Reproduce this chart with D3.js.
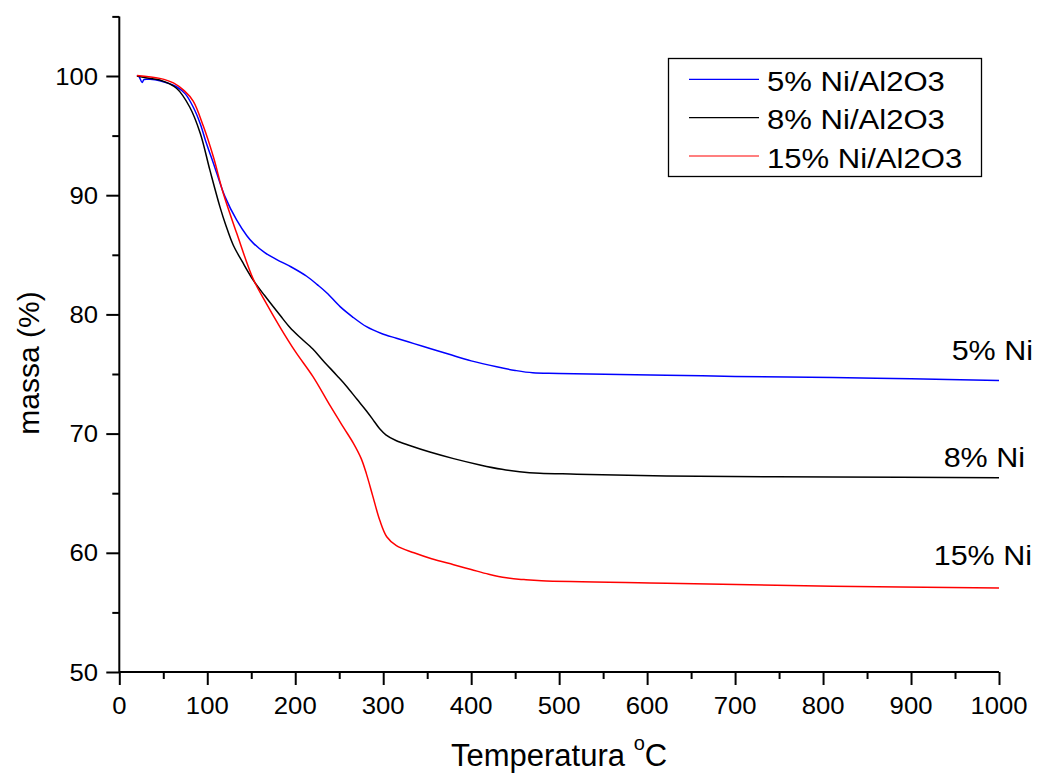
<!DOCTYPE html>
<html>
<head>
<meta charset="utf-8">
<script src="https://cdn.jsdelivr.net/npm/d3@7"></script>
<style>
  html, body { margin: 0; padding: 0; background: #fff; }
  svg { display: block; }
  text { font-family: "Liberation Sans", Arial, sans-serif; fill: #000; }
</style>
</head>
<body>
<svg id="chart" width="1038" height="774"></svg>
<script>
// Thermogravimetric curves (mass % vs temperature) for Ni/Al2O3 catalysts
const temp5 = [20, 22, 26, 28, 35, 46, 65, 75, 84, 92, 99, 105, 111, 120, 133.5, 145, 152, 165, 179, 195, 213, 225, 236, 251, 265, 281, 298, 315, 335, 355, 375, 400, 429, 450, 470, 500, 622, 700, 811, 900, 1000];
const mass5 = [100.0, 100.0, 99.45, 99.7, 99.72, 99.6, 99.1, 98.5, 97.4, 96.0, 94.35, 93.1, 91.8, 89.9, 87.9, 86.6, 86.0, 85.2, 84.6, 84.0, 83.2, 82.5, 81.8, 80.65, 79.8, 78.97, 78.4, 78.0, 77.55, 77.1, 76.65, 76.1, 75.6, 75.3, 75.1, 75.05, 74.9, 74.8, 74.7, 74.6, 74.45];

const temp8 = [20, 30, 46, 65, 80, 92, 103, 114.5, 121, 129.6, 140, 152, 165, 183, 194, 205, 220, 232, 247, 258, 270, 281, 290, 296, 303, 315, 330, 353, 380, 410, 435, 455, 478, 520, 622, 811, 1000];
const mass8 = [100.0, 99.85, 99.66, 98.97, 97.4, 95.2, 92.1, 89.0, 87.5, 85.8, 84.4, 82.9, 81.6, 79.9, 78.9, 78.1, 77.1, 76.1, 74.9, 74.0, 72.9, 71.9, 71.0, 70.4, 69.9, 69.4, 69.0, 68.45, 67.9, 67.37, 67.0, 66.8, 66.67, 66.6, 66.44, 66.36, 66.3];

const temp15 = [20, 46, 62, 74, 84, 95.5, 107, 118, 133.5, 152, 165, 183, 200, 220, 240, 255, 266, 275, 281, 288, 296, 304, 315, 335, 355, 380, 400, 420, 440, 460, 480, 622, 811, 1000];
const mass15 = [100.05, 99.8, 99.4, 98.75, 97.9, 95.8, 93.2, 90.2, 86.8, 83.0, 81.2, 78.9, 76.9, 74.8, 72.3, 70.5, 69.2, 67.9, 66.6, 64.8, 62.75, 61.35, 60.6, 60.0, 59.5, 59.0, 58.6, 58.2, 57.9, 57.75, 57.65, 57.44, 57.2, 57.05];

const seriesNames = ["5% Ni/Al2O3", "8% Ni/Al2O3", "15% Ni/Al2O3"];
const seriesColors = ["#0000ff", "#000000", "#ff0000"];
const endLabels = ["5% Ni", "8% Ni", "15% Ni"];

const xTicks = [0, 100, 200, 300, 400, 500, 600, 700, 800, 900, 1000];
const yTicks = [50, 60, 70, 80, 90, 100];

const svg = d3.select("#chart");

const x = d3.scaleLinear().domain([0, 1000]).range([119.3, 999]);
const y = d3.scaleLinear().domain([50, 105]).range([672, 16.4]);

// helper: text with a slight horizontal stretch
function stretchedText(g, tx, ty, str, size, sx, anchor) {
  return g.append("text")
    .attr("transform", `translate(${tx},${ty}) scale(${sx},1)`)
    .attr("text-anchor", anchor)
    .style("font-size", size + "px")
    .text(str);
}

// X axis
const xAxis = svg.append("g").attr("transform", `translate(0,${y(50)})`);
xAxis.call(d3.axisBottom(x).tickValues(d3.range(0, 1001, 50)).tickSize(7).tickFormat(""));
xAxis.call(g => g.selectAll(".tick line").filter(d => d % 100 === 0).attr("y2", 13));
xAxis.selectAll("line, path").attr("stroke", "#000").attr("stroke-width", 2);
xAxis.select(".domain").attr("d", `M${x(0)},0H${x(1000)}`);
xTicks.forEach(t => stretchedText(svg, x(t), 714, String(t), 24, 1.07, "middle"));

// Y axis
const yAxis = svg.append("g").attr("transform", `translate(${x(0)},0)`);
yAxis.call(d3.axisLeft(y).tickValues(d3.range(50, 105.1, 5)).tickSize(7).tickFormat(""));
yAxis.call(g => g.selectAll(".tick line").filter(d => d % 10 === 0).attr("x2", -13));
yAxis.selectAll("line, path").attr("stroke", "#000").attr("stroke-width", 2);
yAxis.select(".domain").attr("d", `M0,${y(105)}V${y(50)}`);
yTicks.forEach(v => stretchedText(svg, 98, y(v) + 8.6, String(v), 24, 1.07, "end"));

// Axis titles
svg.append("text")
  .attr("transform", "translate(39,363) rotate(-90)")
  .attr("text-anchor", "middle")
  .style("font-size", "30px")
  .text("massa (%)");

const xt = svg.append("text").attr("x", 451).attr("y", 766).style("font-size", "31px");
xt.append("tspan").text("Temperatura ");
xt.append("tspan").attr("dy", -16).style("font-size", "20px").text("o");
xt.append("tspan").attr("dy", 16).text("C");

// Curves
const line = d3.line()
  .x(d => x(d[0]))
  .y(d => y(d[1]))
  .curve(d3.curveCatmullRom.alpha(0.5));

const series = [
  d3.zip(temp5, mass5),
  d3.zip(temp8, mass8),
  d3.zip(temp15, mass15)
];

series.forEach((s, i) => {
  svg.append("path")
    .datum(s)
    .attr("d", line)
    .attr("fill", "none")
    .attr("stroke", seriesColors[i])
    .attr("stroke-width", 1.5);
});

// End-of-curve labels
const endLabelPos = [[1033, 360], [1025, 466.5], [1032, 565]];
endLabels.forEach((t, i) => stretchedText(svg, endLabelPos[i][0], endLabelPos[i][1], t, 28, 1.09, "end"));

// Legend
const legend = svg.append("g");
legend.append("rect")
  .attr("x", 668.5).attr("y", 58.5).attr("width", 313).attr("height", 118)
  .attr("fill", "#fff").attr("stroke", "#000").attr("stroke-width", 1.3);
const legendRows = [79.3, 117.7, 156];
seriesNames.forEach((name, i) => {
  legend.append("line")
    .attr("x1", 689).attr("x2", 759)
    .attr("y1", legendRows[i]).attr("y2", legendRows[i])
    .attr("stroke", seriesColors[i]).attr("stroke-width", 1.2);
  stretchedText(legend, 767, legendRows[i] + 11.7, name, 28, 1.11, "start");
});
</script>
</body>
</html>
